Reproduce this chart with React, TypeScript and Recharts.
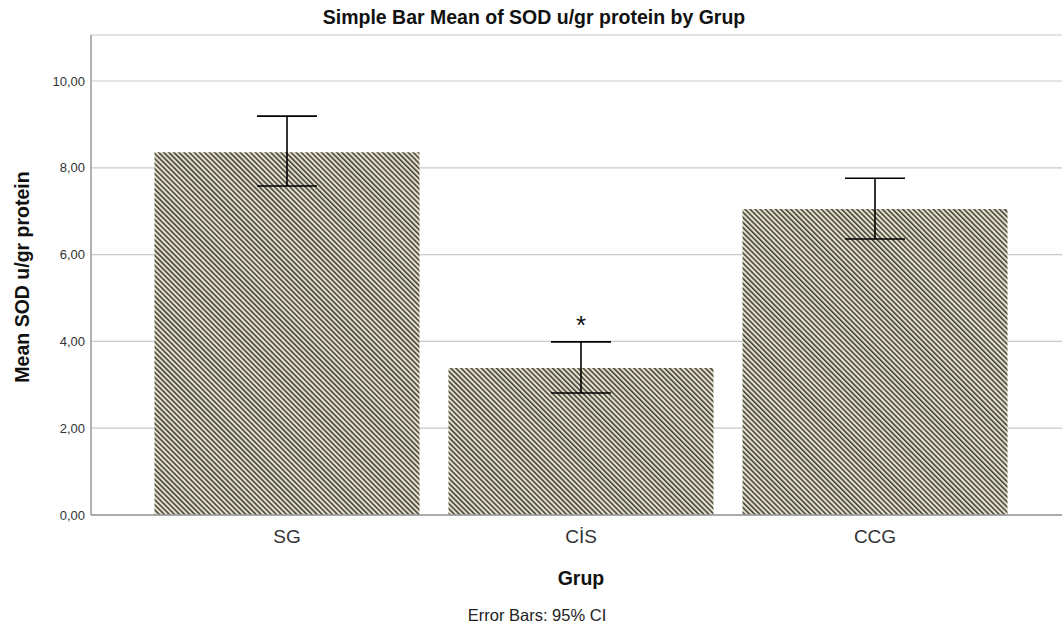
import React from 'react';
import { BarChart, Bar, XAxis, YAxis, CartesianGrid, ErrorBar, ReferenceDot } from 'recharts';

const groups = ['SG', 'CİS', 'CCG'];
const means = [8.36, 3.39, 7.05];
const ciLower = [7.58, 2.81, 6.36];
const ciUpper = [9.19, 3.99, 7.76];
const yTicks = [0, 2, 4, 6, 8, 10];
const sigGroups = ['CİS'];
const sigY = [4.38];

const data = groups.map((g, i) => ({
  grup: g,
  mean: means[i],
  err: [means[i] - ciLower[i], ciUpper[i] - means[i]],
}));

const FONT = '"Liberation Sans", Arial, sans-serif';
const fmt = (v: number) => v.toFixed(2).replace('.', ',');

export default function App() {
  return (
    <div style={{ position: 'absolute', left: 0, top: 0, width: 1062, height: 631, background: '#fff', fontFamily: FONT }}>
      <div style={{ position: 'absolute', left: 534, top: 17, transform: 'translate(-50%, -50%)', whiteSpace: 'nowrap', fontWeight: 'bold', fontSize: 19.5, color: '#111' }}>
        Simple Bar Mean of SOD u/gr protein by Grup
      </div>
      <BarChart
        width={1062}
        height={631}
        data={data}
        margin={{ top: 35, right: 0, bottom: 86, left: 0 }}
        barCategoryGap={14.5}
      >
        <defs>
          <pattern id="hatch" width="3.6" height="3.6" patternUnits="userSpaceOnUse" patternTransform="rotate(-45)">
            <rect width="3.6" height="3.6" fill="#e6e1cd" />
            <rect width="1.6" height="3.6" fill="#48463c" />
          </pattern>
        </defs>
        <CartesianGrid horizontal vertical={false} stroke="#c9c9c9" strokeWidth={1.2} />
        <XAxis
          dataKey="grup"
          type="category"
          padding={{ left: 49, right: 40 }}
          height={30}
          tickLine={false}
          tickSize={0}
          tickMargin={15}
          axisLine={{ stroke: '#999', strokeWidth: 1.5 }}
          tick={{ fontSize: 19, fill: '#333', fontFamily: FONT }}
        />
        <YAxis
          width={91}
          domain={[0, 11.06]}
          ticks={yTicks}
          tickFormatter={fmt}
          tickLine={false}
          tickSize={0}
          tickMargin={6}
          axisLine={{ stroke: '#999', strokeWidth: 1.5 }}
          tick={{ fontSize: 13, fill: '#333', fontFamily: FONT }}
          allowDataOverflow
        />
        <Bar dataKey="mean" fill="url(#hatch)" isAnimationActive={false}>
          <ErrorBar dataKey="err" width={30} stroke="#000" strokeWidth={1.6} direction="y" />
        </Bar>
        {sigGroups.map((g, i) => (
          <ReferenceDot
            key={g}
            x={g}
            y={sigY[i]}
            r={0}
            fill="none"
            stroke="none"
            label={{ value: '*', position: 'center', fontSize: 26, fill: '#111', fontFamily: FONT }}
          />
        ))}
      </BarChart>
      <div
        style={{
          position: 'absolute',
          left: 22,
          top: 277,
          transform: 'translate(-50%, -50%) rotate(-90deg)',
          whiteSpace: 'nowrap',
          fontWeight: 'bold',
          fontSize: 19.5,
          color: '#111',
        }}
      >
        Mean SOD u/gr protein
      </div>
      <div style={{ position: 'absolute', left: 581, top: 578, transform: 'translate(-50%, -50%)', fontWeight: 'bold', fontSize: 19.5, color: '#111' }}>
        Grup
      </div>
      <div style={{ position: 'absolute', left: 537, top: 615, transform: 'translate(-50%, -50%)', fontSize: 16.5, color: '#222', whiteSpace: 'nowrap' }}>
        Error Bars: 95% CI
      </div>
    </div>
  );
}
